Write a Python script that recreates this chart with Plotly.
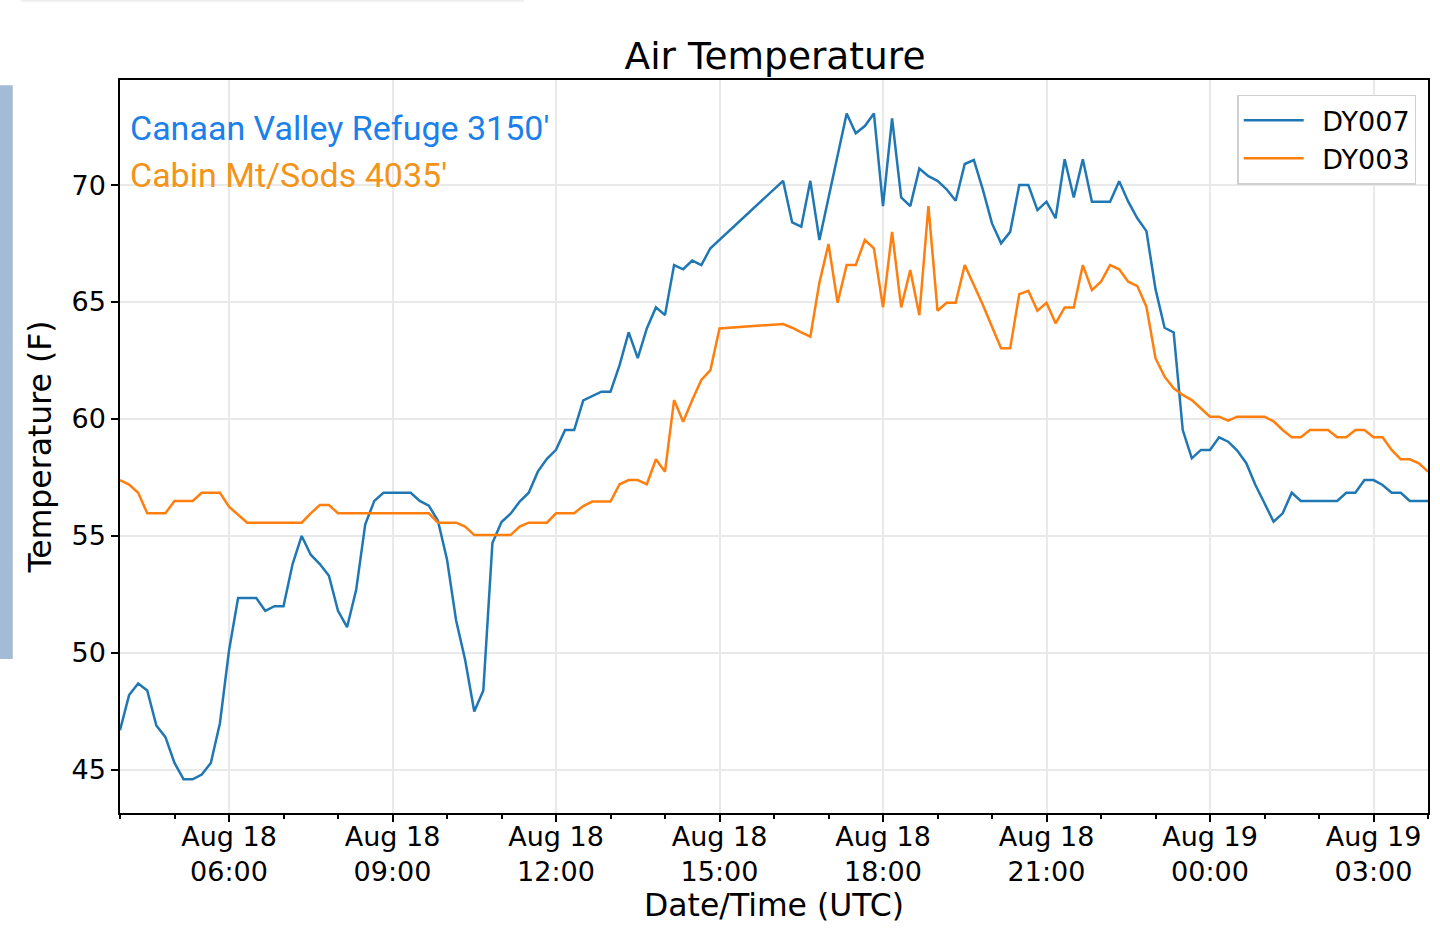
import pandas as pd
import plotly.graph_objects as go

# sample times (10 minute logging, gap in the afternoon)
times_am = pd.date_range("2019-08-18 04:00", "2019-08-18 14:50", freq="10min")
times_am_o = pd.date_range("2019-08-18 04:00", "2019-08-18 15:00", freq="10min")
times_pm = pd.date_range("2019-08-18 16:10", "2019-08-19 04:00", freq="10min")

# DY007 - Canaan Valley Refuge (F)
dy007_am = [46.7, 48.2, 48.7, 48.4, 46.9, 46.4,
            45.3, 44.6, 44.6, 44.8, 45.3, 47.0,
            50.1, 52.35, 52.35, 52.35, 51.8, 52.0,
            52.0, 53.8, 55.0, 54.2, 53.8, 53.3,
            51.8, 51.1, 52.7, 55.5, 56.5, 56.85,
            56.85, 56.85, 56.85, 56.5, 56.3, 55.65,
            54.0, 51.4, 49.7, 47.5, 48.4, 54.7,
            55.6, 55.95, 56.47, 56.85, 57.75, 58.3,
            58.68, 59.53, 59.53, 60.8, 60.98, 61.17,
            61.17, 62.3, 63.7, 62.6, 63.87, 64.77,
            64.44, 66.58, 66.4, 66.77, 66.58, 67.3]
dy007_pm = [70.18, 68.4, 68.22, 70.18, 67.65,
            69.47, 71.27, 73.06, 72.21, 72.52, 73.06,
            69.1, 72.85, 69.47, 69.1, 70.71, 70.38,
            70.18, 69.82, 69.33, 70.9, 71.07, 69.79,
            68.36, 67.51, 68.0, 70.0, 70.0, 68.93,
            69.29, 68.58, 71.1, 69.47, 71.1, 69.29,
            69.29, 69.29, 70.16, 69.29, 68.58, 68.03,
            65.55, 63.9, 63.7, 59.53, 58.32, 58.68,
            58.68, 59.22, 59.03, 58.65, 58.11, 57.18,
            56.4, 55.61, 55.97, 56.85, 56.5, 56.5,
            56.5, 56.5, 56.5, 56.85, 56.85, 57.39,
            57.39, 57.18, 56.85, 56.85, 56.5, 56.5,
            56.5]

# DY003 - Cabin Mt/Sods (F)
dy003_am = [57.39, 57.2, 56.85, 55.97, 55.97, 55.97,
            56.5, 56.5, 56.5, 56.85, 56.85, 56.85,
            56.25, 55.9, 55.57, 55.57, 55.57, 55.57,
            55.57, 55.57, 55.57, 55.97, 56.32, 56.32,
            55.97, 55.97, 55.97, 55.97, 55.97, 55.97,
            55.97, 55.97, 55.97, 55.97, 55.97, 55.57,
            55.57, 55.57, 55.4, 55.04, 55.04, 55.04,
            55.04, 55.04, 55.4, 55.57, 55.57, 55.57,
            55.97, 55.97, 55.97, 56.28, 56.47, 56.47,
            56.47, 57.21, 57.39, 57.39, 57.21, 58.28,
            57.75, 60.81, 59.88, 60.81, 61.67, 62.09,
            63.87]
dy003_pm = [64.06, 63.9, 63.7, 63.52, 65.83,
            67.48, 64.97, 66.58, 66.58, 67.65, 67.29,
            64.77, 68.0, 64.77, 66.37, 64.44, 69.1,
            64.63, 64.97, 64.97, 66.58, 65.73, 64.87,
            63.94, 63.02, 63.02, 65.34, 65.48, 64.63,
            64.97, 64.09, 64.77, 64.77, 66.58, 65.51,
            65.87, 66.58, 66.4, 65.87, 65.68, 64.8,
            62.6, 61.81, 61.31, 61.03, 60.81, 60.46,
            60.1, 60.1, 59.93, 60.1, 60.1, 60.1,
            60.1, 59.9, 59.53, 59.22, 59.22, 59.53,
            59.53, 59.53, 59.22, 59.22, 59.53, 59.53,
            59.22, 59.22, 58.68, 58.28, 58.28, 58.11,
            57.75]

FONT = "DejaVu Sans"

fig = go.Figure()
fig.add_trace(go.Scatter(x=list(times_am) + list(times_pm), y=dy007_am + dy007_pm,
                         mode="lines", name="\u2002DY007",
                         line=dict(color="#1f77b4", width=2.5)))
fig.add_trace(go.Scatter(x=list(times_am_o) + list(times_pm), y=dy003_am + dy003_pm,
                         mode="lines", name="\u2002DY003",
                         line=dict(color="#ff7f0e", width=2.5)))

axis_common = dict(showline=True, linecolor="black", linewidth=1.5, mirror=True,
                   ticks="outside", ticklen=7, tickcolor="black", tickwidth=1.5,
                   showgrid=True, gridcolor="#e9e9e9", gridwidth=1.5,
                   zeroline=False, tickfont=dict(family=FONT, size=27, color="black"))

fig.update_layout(
    width=1440, height=938,
    margin=dict(l=120, r=10, t=80, b=125),
    paper_bgcolor="white", plot_bgcolor="white",
    title=dict(text="Air Temperature", x=0.5382, xanchor="center", y=0.94, yanchor="middle",
               font=dict(family=FONT, size=37.5, color="black")),
    xaxis=dict(axis_common, range=["2019-08-18 04:00", "2019-08-19 04:00"],
               tick0="2019-08-18 06:00", dtick=3 * 3600000,
               tickformat="%b %d<br>%H:%M", ticklabelstandoff=-8,
               minor=dict(dtick=3600000, ticks="outside", ticklen=4, tickcolor="black",
                          showgrid=False),
               title=dict(text="Date/Time (UTC)", standoff=4,
                          font=dict(family=FONT, size=31.5, color="black"))),
    yaxis=dict(axis_common, range=[43.16, 74.49], tick0=45, dtick=5,
               title=dict(text="Temperature (F)", standoff=10,
                          font=dict(family=FONT, size=31.5, color="black"))),
    legend=dict(x=0.991, y=0.98, xanchor="right", yanchor="top",
                bgcolor="white", bordercolor="#d0d0d0", borderwidth=1.5,
                font=dict(family=FONT, size=27, color="black"),
                itemwidth=60, tracegroupgap=0),
    showlegend=True,
)

fig.add_annotation(text="Canaan Valley Refuge 3150'", xref="paper", yref="paper",
                   x=0.006, y=0.934, xanchor="left", yanchor="middle", showarrow=False,
                   font=dict(family="Roboto", size=34, color="#1a80ea"))
fig.add_annotation(text="Cabin Mt/Sods 4035'", xref="paper", yref="paper",
                   x=0.006, y=0.871, xanchor="left", yanchor="middle", showarrow=False,
                   font=dict(family="Roboto", size=34, color="#f3941a"))

# screenshot chrome: side tab on the left and the faint line at the top
fig.add_shape(type="rect", xref="paper", yref="paper",
              x0=-0.1, x1=-0.082, y0=0.21, y1=0.993,
              fillcolor="#a3bbd6", line=dict(width=0), layer="below")
fig.add_shape(type="line", xref="paper", yref="paper",
              x0=-0.076, x1=0.309, y0=1.108, y1=1.108,
              line=dict(color="#eeeeee", width=2))

fig.write_html("out.html", config={"displayModeBar": False},
               post_script="document.body.style.margin='0';")
